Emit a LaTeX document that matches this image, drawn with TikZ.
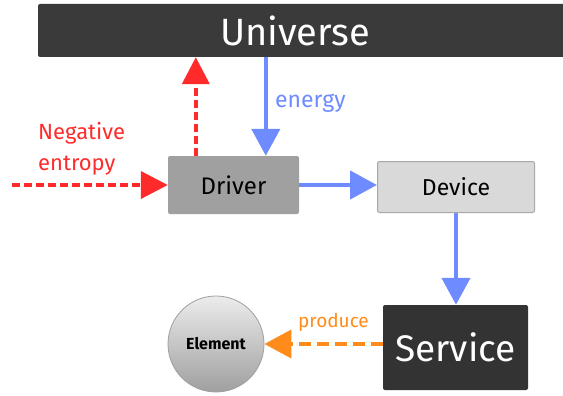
\documentclass[tikz,border=0pt]{standalone}
\usepackage{fontspec}
\setmainfont{Fira Sans}
\usetikzlibrary{arrows.meta,calc}

\definecolor{darkbox}{HTML}{3A3A3A}
\definecolor{servicebox}{HTML}{333333}
\definecolor{driverfill}{HTML}{A0A0A0}
\definecolor{devicefill}{HTML}{D9D9D9}
\definecolor{devicedraw}{HTML}{A8A8A8}
\definecolor{flowred}{HTML}{FF2B2B}
\definecolor{flowblue}{HTML}{6E8BFF}
\definecolor{floworange}{HTML}{FF8C1A}

\tikzset{
  box/.style={rectangle, rounded corners=2pt, inner sep=0pt},
  blueflow/.style={draw=flowblue, line width=4.5pt,
    -{Triangle[width=28pt,length=27pt]}, shorten >=0pt},
  redflow/.style={draw=flowred, line width=4pt, dash pattern=on 8pt off 4pt,
    -{Triangle[width=27pt,length=27pt]}},
  orangeflow/.style={draw=floworange, line width=4pt, dash pattern=on 12pt off 6pt,
    -{Triangle[width=28pt,length=27pt]}},
}

\begin{document}
\begin{tikzpicture}[x=1pt,y=-1pt]
\useasboundingbox (0,0) rectangle (563,396);

% top bar
\begin{scope}
  \clip (0,0) rectangle (563,396);
  \node[box, fill=darkbox, minimum width=532pt, minimum height=53pt,
        label={[xshift=-9pt, text=white, font=\fontsize{38}{38}\selectfont]center:Universe}]
        (universe) at (304,30.5) {};
\end{scope}

% process boxes
\node[box, fill=driverfill, minimum width=131pt, minimum height=58pt,
      font=\fontsize{24}{24}\selectfont] (driver) at (233.5,185) {Driver};
\node[box, fill=devicefill, draw=devicedraw, line width=1pt,
      minimum width=157pt, minimum height=51pt,
      font=\fontsize{23}{23}\selectfont] (device) at (456,187) {Device};
\node[box, fill=servicebox, minimum width=145pt, minimum height=85pt,
      text=white, font=\fontsize{37}{37}\selectfont] (service) at (455.5,347.5) {Service};
\node[circle, draw=gray!75, line width=0.8pt, minimum size=96pt, inner sep=0pt,
      top color=gray!15, bottom color=gray!75,
      font=\bfseries\fontsize{16}{16}\selectfont] (element) at (216,344) {Element};

% connector end points
\coordinate (upstart) at ($(driver.north west)+(28,0)$);
\coordinate (downend) at ($(driver.north west)+(98,0)$);
\coordinate (negstart) at (12,185);

% connectors
\draw[redflow] (upstart) -- (upstart |- universe.south);
\draw[blueflow] (universe.south -| downend) -- (downend);
\draw[redflow] (negstart) -- (driver.west);
\draw[blueflow] (driver.east) -- (driver.east -| device.west);
\draw[blueflow] (device.south) -- (device.south |- service.north);
\draw[orangeflow] (service.west |- element.east) -- (element.east);

% labels
\node[anchor=west, text=flowblue, font=\fontsize{23}{23}\selectfont, inner sep=0pt]
     (energylbl) at (275,103) {energy};
\node[anchor=north west, align=left, text=flowred, inner sep=0pt,
      font=\fontsize{22}{31}\selectfont] (neglbl) at (38,122) {Negative\\entropy};
\node[anchor=west, text=floworange, font=\fontsize{19}{19}\selectfont, inner sep=0pt]
     (producelbl) at (298,322) {produce};
\end{tikzpicture}
\end{document}
